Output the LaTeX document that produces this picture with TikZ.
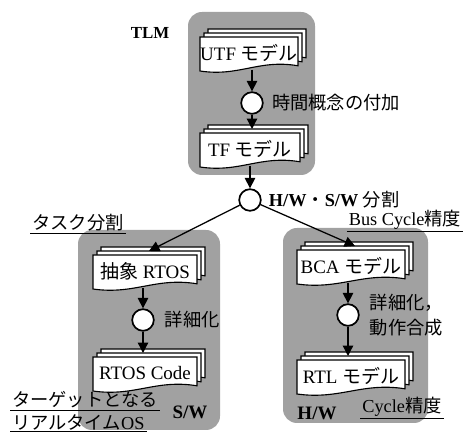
\documentclass[tikz,border=0pt]{standalone}
\usepackage{fontspec}
\setmainfont{Liberation Serif}
\newfontfamily\jpn{Noto Sans CJK JP}
\usetikzlibrary{arrows.meta, positioning}

\newcommand{\docsize}{\fontsize{13.5}{16}\selectfont}
\newcommand{\labelsize}{\fontsize{13}{18}\selectfont}
\newcommand{\tagsize}{\fontsize{13.5}{16}\selectfont}

% stack of three pages: name, x, y (top left of front page), width, text
\newcommand{\docstack}[5]{%
  \foreach \d in {0.2,0.1,0}{
    \draw[page, shift={(#2+\d,#3+\d)}] (0,0) -- (#4,0) -- (#4,-0.72)
      .. controls ({0.6*#4},-0.55) and ({0.4*#4},-1.0) .. (0,-0.85) -- cycle;
  }
  \node[doctext] (#1) at ({#2+#4/2},{#3-0.4}) {#5};
  \coordinate (#1-top) at ({#2+#4/2+0.1},{#3+0.1});
}

\begin{document}
\begin{tikzpicture}[>={Triangle[length=2.6mm,width=2.6mm]}, line width=0.9pt,
  group/.style={fill=black!37, rounded corners=0.35cm},
  page/.style={draw, fill=white, line width=0.8pt},
  doctext/.style={inner sep=0pt, minimum height=0.8cm, font=\docsize},
  joint/.style={circle, draw, fill=white, line width=1.2pt, minimum size=0.54cm, inner sep=0pt},
  note/.style={font=\labelsize\jpn},
  tag/.style={font=\tagsize\bfseries},
  ulabel/.style={inner sep=1pt, font=\labelsize}]
  \useasboundingbox (0,0) rectangle (11.725,10.975);

  % gray areas
  \fill[group] (4.7,6.6) rectangle (7.875,10.675);
  \fill[group] (1.95,0.225) rectangle (5.5,5.225);
  \fill[group] (7.075,0.4) rectangle (10.7,5.275);

  % models
  \docstack{utf}{5.0}{10.05}{2.45}{UTF {\jpn モデル}}
  \docstack{tf}{5.0}{7.65}{2.5}{TF {\jpn モデル}}
  \docstack{absrtos}{2.325}{4.6}{2.6}{{\jpn 抽象} RTOS}
  \docstack{rtoscode}{2.325}{2.05}{2.6}{RTOS Code}
  \docstack{bca}{7.425}{4.725}{2.7}{BCA {\jpn モデル}}
  \docstack{rtl}{7.425}{1.975}{2.7}{RTL {\jpn モデル}}

  \node[joint] (c1) at (6.3,8.4) {};
  \node[joint] (c2) at (6.25,5.975) {};
  \node[joint] (c3) at (3.575,2.975) {};
  \node[joint] (c4) at (8.7,3.1) {};

  \draw[->] (utf.south -| c1) -- (c1);
  \draw[->] (c1) -- (c1 |- tf-top);
  \draw[->] (tf.south -| c2) -- (c2);
  \draw[->] (c2) -- (absrtos-top);
  \draw[->] (c2) -- (bca-top);
  \draw[->] (absrtos.south -| c3) -- (c3);
  \draw[->] (c3) -- (c3 |- rtoscode-top);
  \draw[->] (bca.south -| c4) -- (c4);
  \draw[->] (c4) -- (c4 |- rtl-top);

  \node[note, right=0.08cm of c1] (timing) {時間概念の付加};
  \node[right=0.05cm of c2, font=\labelsize\bfseries] (hwsw) {H/W{\jpn\mdseries ・}S/W {\jpn\mdseries 分割}};
  \node[note, right=0.12cm of c3] (refine1) {詳細化};
  \node[note, right=0.12cm of c4, align=left] (refine2) {詳細化，\\動作合成};

  \node[tag, font=\fontsize{12}{14}\selectfont\bfseries] (tlm) at (3.75,10.15) {TLM};
  \node[tag] (sw) at (4.75,0.675) {S/W};
  \node[tag] (hw) at (7.925,0.65) {H/W};

  \node[ulabel] (task) at (1.95,5.4) {\jpn タスク分割};
  \node[ulabel] (buscyc) at (10.125,5.475) {Bus Cycle{\jpn 精度}};
  \node[ulabel] (cyc) at (10.05,0.8) {Cycle{\jpn 精度}};
  \node[ulabel, anchor=west] (target1) at (0.25,0.975) {\jpn ターゲットとなる};
  \node[ulabel, anchor=west] (target2) at (0.25,0.425) {{\jpn リアルタイム}OS};
  \foreach \n in {task, buscyc, cyc, target1, target2}
    \draw[line width=0.8pt] (\n.south west) -- (\n.south east);
\end{tikzpicture}
\end{document}
